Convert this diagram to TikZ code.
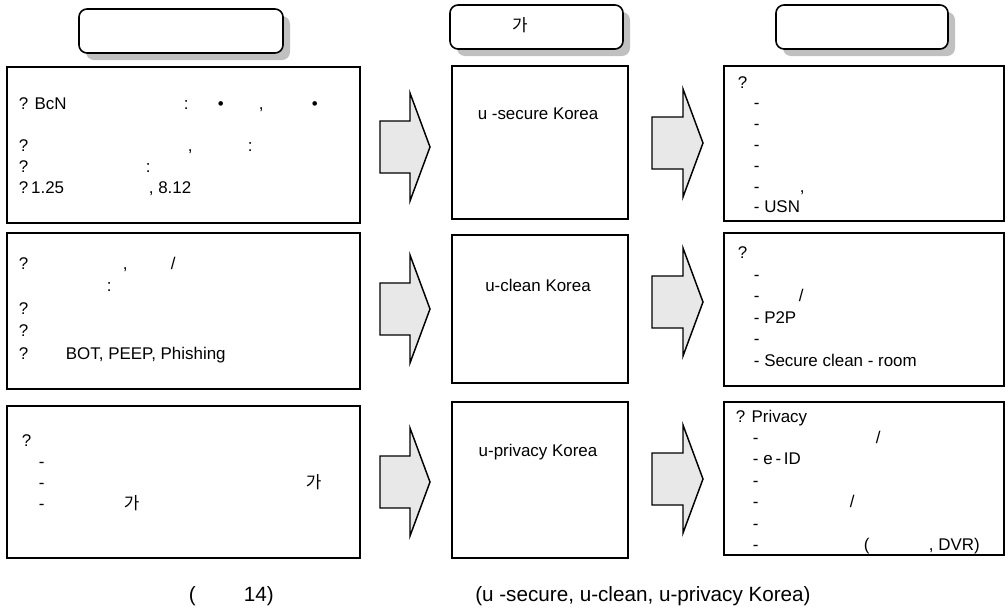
\documentclass[tikz,border=0pt]{standalone}
\usepackage{fontspec}
\setmainfont{Liberation Sans}
\newfontfamily\krfont{Noto Sans CJK KR}
\definecolor{shadowgray}{RGB}{192,192,192}
\definecolor{arrowgray}{RGB}{232,232,232}
\newlength\pxu
\setlength\pxu{0.75pt}
% text piece at (x,y) px from the node's reference point
\newcommand\txtat[3]{\rlap{\hspace*{#1\pxu}\raisebox{-#2\pxu}[0pt][0pt]{#3}}\ignorespaces}
\tikzset{
  panel/.style={draw, line width=1.2pt},
  headbox/.style={draw, line width=1.2pt, fill=white, rounded corners=6pt},
  headshadow/.style={fill=shadowgray, rounded corners=6pt},
  blockarrow/.style={draw, line width=1.1pt, fill=arrowgray, line join=miter},
  txt/.style={anchor=base west, inner sep=0pt, font=\fontsize{12.7}{15}\selectfont},
  mtxt/.style={anchor=base, inner sep=0pt, font=\fontsize{12.7}{15}\selectfont},
  captxt/.style={anchor=base west, inner sep=0pt, font=\fontsize{15.5}{18}\selectfont}
}
\begin{document}
\begin{tikzpicture}[x=0.75pt, y=-0.75pt]
\useasboundingbox (0,0) rectangle (1008,615);

% column heads
\foreach \x/\y/\w in {79/9/204, 450/5/173, 776/5/172}{
  \fill[headshadow] (\x+7,\y+7) rectangle ++(\w,44);
  \draw[headbox] (\x,\y) rectangle ++(\w,44);
}
\node[mtxt, font=\krfont\fontsize{12.7}{15}\selectfont] (midhead) at (520,31) {가};

% boxes
\draw[panel] (7,67) rectangle (360,223);
\draw[panel] (7,233) rectangle (360,389);
\draw[panel] (7,406) rectangle (360,558);
\draw[panel] (452,66) rectangle (628,219);
\draw[panel] (452,235) rectangle (628,383);
\draw[panel] (452,402) rectangle (628,558);
\draw[panel] (724,66) rectangle (1004,221);
\draw[panel] (724,233) rectangle (1004,386);
\draw[panel] (724,402) rectangle (1004,555);

% block arrows
\foreach \xa/\xb/\xc/\cy in {380/410/430/147, 380/410/430/309, 380/410/430/482,
                             652/683/703/143, 652/683/703/302, 652/683/703/479}
  \draw[blockarrow] (\xa,\cy-26) -- (\xb,\cy-26) -- (\xb,\cy-54) -- (\xc,\cy)
    -- (\xb,\cy+54) -- (\xb,\cy+26) -- (\xa,\cy+26) -- cycle;

% left column
\node[txt] (leftA) at (7,67) {%
  \txtat{11}{42}{? BcN}\txtat{176}{42}{:}\txtat{210}{42}{•}\txtat{251}{42}{,}\txtat{304}{42}{•}
  \txtat{11}{84}{?}\txtat{180}{84}{,}\txtat{240}{84}{:}
  \txtat{11}{105}{?}\txtat{138}{105}{:}
  \txtat{11}{126}{?\,1.25}\txtat{141}{126}{, 8.12}};
\node[txt] (leftB) at (7,233) {%
  \txtat{11}{36}{?}\txtat{115}{36}{,}\txtat{163}{36}{/}
  \txtat{99}{58.5}{:}
  \txtat{11}{81}{?}
  \txtat{11}{103.5}{?}
  \txtat{11}{126}{?}\txtat{58}{126}{BOT, PEEP, Phishing}};
\node[txt] (leftC) at (7,406) {%
  \txtat{14}{40}{?}
  \txtat{31}{61}{-}
  \txtat{31}{82}{-}\txtat{298}{82}{\krfont 가}
  \txtat{31}{103}{-}\txtat{116}{103}{\krfont 가}};

% middle column
\node[mtxt] (secure) at (538,119) {u -secure Korea};
\node[mtxt] (clean) at (538,291) {u-clean Korea};
\node[mtxt] (privacy) at (538,456) {u-privacy Korea};

% right column
\node[txt] (rightA) at (724,66) {%
  \txtat{13}{22}{?}
  \txtat{29}{42.8}{-}
  \txtat{29}{63.6}{-}
  \txtat{29}{84.4}{-}
  \txtat{29}{105.2}{-}
  \txtat{29}{126}{-}\txtat{75}{126}{,}
  \txtat{29}{146.8}{- USN}};
\node[txt] (rightB) at (724,233) {%
  \txtat{13}{25}{?}
  \txtat{29}{47}{-}
  \txtat{29}{68.5}{-}\txtat{74}{68.5}{/}
  \txtat{29}{90}{- P2P}
  \txtat{29}{111.5}{-}
  \txtat{29}{133}{- Secure clean - room}};
\node[txt] (rightC) at (724,402) {%
  \txtat{11}{20}{? Privacy}
  \txtat{28}{41.4}{-}\txtat{151}{41.4}{/}
  \txtat{28}{62.8}{- e\,-\,ID}
  \txtat{28}{84.2}{-}
  \txtat{28}{105.6}{-}\txtat{125}{105.6}{/}
  \txtat{28}{127}{-}
  \txtat{28}{148.4}{-}\txtat{139}{148.4}{(}\txtat{204}{148.4}{, DVR)}};

% captions
\node[captxt] (capleft) at (188,601) {\txtat{0}{0}{(}\txtat{55}{0}{14)}};
\node[captxt] (capright) at (475,601) {(u -secure, u-clean, u-privacy Korea)};
\end{tikzpicture}
\end{document}
